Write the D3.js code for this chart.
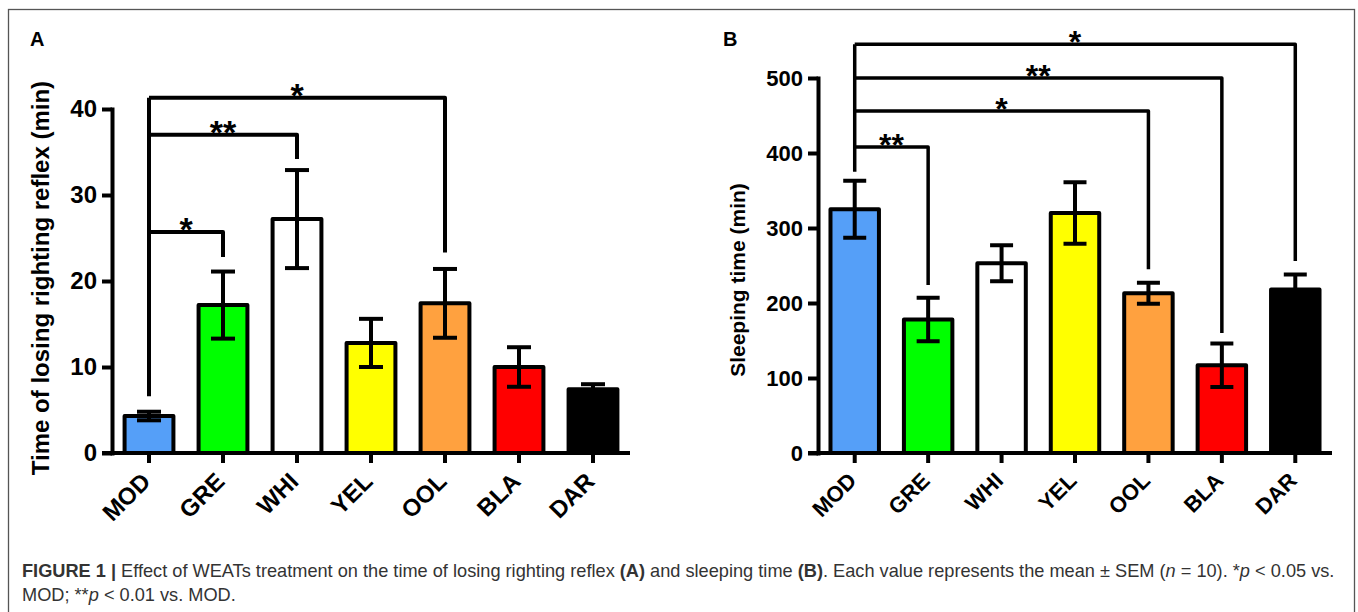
<!DOCTYPE html>
<html>
<head>
<meta charset="utf-8">
<script src="https://cdn.jsdelivr.net/npm/d3@7"></script>
<style>
  html, body { margin: 0; padding: 0; background: #fff; }
  svg { display: block; }
</style>
</head>
<body>
<svg id="fig" width="1358" height="612"></svg>
<script>
// ---------- data ----------
const categories = ["MOD", "GRE", "WHI", "YEL", "OOL", "BLA", "DAR"];
const barColors = ["#559ff8", "#00ff00", "#ffffff", "#ffff00", "#ffa13f", "#ff0000", "#000000"];

const meanA = [4.3, 17.2, 27.2, 12.8, 17.4, 10.0, 7.4];
const semA  = [0.5, 3.9, 5.7, 2.8, 4.0, 2.3, 0.6];
const ticksA = [0, 10, 20, 30, 40];

const meanB = [325, 178, 253, 320, 213, 117, 218];
const semB  = [38, 29, 24, 41, 14, 29, 20];
const ticksB = [0, 100, 200, 300, 400, 500];

// significance brackets (all vs. MOD)
const sigATo    = ["GRE", "WHI", "OOL"];
const sigALevel = [25.7, 37.0, 41.3];
const sigAEnd   = [22.8, 34.2, 23.3];
const sigALabel = ["*", "**", "*"];
const sigAStart = 6.6;

const sigBTo    = ["GRE", "OOL", "BLA", "DAR"];
const sigBLevel = [408, 456, 500, 545];
const sigBEnd   = [224, 245, 160, 256];
const sigBLabel = ["**", "*", "**", "*"];
const sigBStart = 375;

const yLabelA = "Time of losing righting reflex (min)";
const yLabelB = "Sleeping time (min)";

// ---------- drawing ----------
const svg = d3.select("#fig");
const FONT = "'Liberation Sans', Arial, Helvetica, sans-serif";

// outer frame
svg.append("rect")
  .attr("x", 8.5).attr("y", 9.5)
  .attr("width", 1346).attr("height", 640)
  .attr("fill", "none").attr("stroke", "#555").attr("stroke-width", 1.3);

function panel(cfg) {
  const g = svg.append("g");
  const x = d3.scaleBand().domain(categories)
    .range([cfg.x0, cfg.x1]).paddingInner(0.34).paddingOuter(0.17);
  const y = d3.scaleLinear().domain([0, cfg.yMax]).range([cfg.yBottom, cfg.yTop]);
  const cx = c => x(c) + x.bandwidth() / 2;
  const sw = cfg.sw;

  // panel letter
  g.append("text").attr("x", cfg.letterX).attr("y", 46)
    .attr("font-family", FONT).attr("font-weight", "bold").attr("font-size", 20)
    .text(cfg.letter);

  // y label
  g.append("text")
    .attr("transform", `translate(${cfg.yLabelX},${cfg.yLabelY}) rotate(-90)`)
    .attr("text-anchor", "middle")
    .attr("font-family", FONT).attr("font-weight", "bold").attr("font-size", cfg.labelFont)
    .text(cfg.yLabel);

  // bars
  g.selectAll("rect.bar").data(categories).join("rect")
    .attr("class", "bar")
    .attr("x", c => x(c))
    .attr("width", x.bandwidth())
    .attr("y", (c, i) => y(cfg.mean[i]))
    .attr("height", (c, i) => y(0) - y(cfg.mean[i]))
    .attr("fill", (c, i) => barColors[i])
    .attr("stroke", "#000").attr("stroke-width", sw)
    .attr("stroke-linejoin", "round");

  // error bars
  const capW = cfg.capW;
  const eb = g.selectAll("g.err").data(categories).join("g").attr("class", "err")
    .attr("stroke", "#000").attr("stroke-width", sw);
  eb.append("line")
    .attr("x1", c => cx(c)).attr("x2", c => cx(c))
    .attr("y1", (c, i) => y(cfg.mean[i] - cfg.sem[i]))
    .attr("y2", (c, i) => y(cfg.mean[i] + cfg.sem[i]));
  eb.append("line")
    .attr("x1", c => cx(c) - capW / 2).attr("x2", c => cx(c) + capW / 2)
    .attr("y1", (c, i) => y(cfg.mean[i] + cfg.sem[i]))
    .attr("y2", (c, i) => y(cfg.mean[i] + cfg.sem[i]));
  eb.append("line")
    .attr("x1", c => cx(c) - capW / 2).attr("x2", c => cx(c) + capW / 2)
    .attr("y1", (c, i) => y(cfg.mean[i] - cfg.sem[i]))
    .attr("y2", (c, i) => y(cfg.mean[i] - cfg.sem[i]));

  // y axis
  const yAxis = g.append("g")
    .attr("transform", `translate(${cfg.x0},0)`)
    .call(d3.axisLeft(y).tickValues(cfg.ticks).tickSize(10).tickSizeOuter(0).tickPadding(5));
  yAxis.select(".domain").attr("stroke-width", sw).attr("stroke-linecap", "square");
  yAxis.selectAll(".tick line").attr("stroke-width", sw);
  yAxis.selectAll(".tick text")
    .attr("font-family", FONT).attr("font-weight", "bold").attr("font-size", cfg.tickFont)
    .attr("fill", "#000");

  // x axis
  const xAxis = g.append("g")
    .attr("transform", `translate(0,${cfg.yBottom})`)
    .call(d3.axisBottom(x).tickSize(10).tickSizeOuter(0));
  xAxis.select(".domain").remove();
  xAxis.append("line")
    .attr("x1", cfg.x0 - 10).attr("x2", cfg.x1)
    .attr("y1", 0).attr("y2", 0)
    .attr("stroke", "#000").attr("stroke-width", sw);
  xAxis.selectAll(".tick line").attr("stroke-width", sw);
  xAxis.selectAll(".tick text")
    .attr("font-family", FONT).attr("font-weight", "bold").attr("font-size", cfg.xFont)
    .attr("fill", "#000")
    .attr("text-anchor", "end")
    .attr("dy", null)
    .attr("y", 0)
    .attr("transform", `translate(${cfg.xLabDx},${cfg.xLabDy}) rotate(-45)`);

  // significance brackets
  const sg = g.append("g").attr("fill", "none").attr("stroke", "#000")
    .attr("stroke-width", cfg.bw).attr("stroke-linejoin", "round");
  const mx = cx("MOD");
  const topLevel = d3.max(cfg.sigLevel);
  sg.append("line").attr("x1", mx).attr("x2", mx)
    .attr("y1", y(topLevel)).attr("y2", y(cfg.sigStart));
  cfg.sigTo.forEach((t, i) => {
    sg.append("path")
      .attr("d", `M${mx},${y(cfg.sigLevel[i])} H${cx(t)} V${y(cfg.sigEnd[i])}`);
    g.append("text")
      .attr("x", (mx + cx(t)) / 2)
      .attr("y", y(cfg.sigLevel[i]) + 9)
      .attr("text-anchor", "middle")
      .attr("font-family", FONT).attr("font-weight", "bold").attr("font-size", cfg.starFont)
      .text(cfg.sigLabel[i]);
  });
}

panel({
  letter: "A", letterX: 30,
  x0: 112, x1: 630, yBottom: 453, yTop: 109, yMax: 40,
  mean: meanA, sem: semA, ticks: ticksA,
  yLabel: yLabelA, yLabelX: 49, yLabelY: 278, labelFont: 24,
  tickFont: 24, xFont: 24, xLabDx: 3, xLabDy: 30,
  starFont: 34,
  sigTo: sigATo, sigLevel: sigALevel, sigEnd: sigAEnd, sigLabel: sigALabel, sigStart: sigAStart,
  sw: 4, bw: 4, capW: 24
});

panel({
  letter: "B", letterX: 723,
  x0: 818, x1: 1332, yBottom: 453, yTop: 78, yMax: 500,
  mean: meanB, sem: semB, ticks: ticksB,
  yLabel: yLabelB, yLabelX: 745, yLabelY: 280, labelFont: 21,
  tickFont: 22, xFont: 22, xLabDx: 3, xLabDy: 29,
  starFont: 32,
  sigTo: sigBTo, sigLevel: sigBLevel, sigEnd: sigBEnd, sigLabel: sigBLabel, sigStart: sigBStart,
  sw: 4, bw: 3.5, capW: 23
});

// ---------- caption ----------
const cap = svg.append("g").attr("font-family", FONT).attr("fill", "#333");
const line1 = cap.append("text").attr("x", 22).attr("y", 577).attr("font-size", 14.5);
line1.append("tspan").attr("font-weight", "bold").text("FIGURE 1 | ");
line1.append("tspan").text("Effect of WEATs treatment on the time of losing righting reflex ");
line1.append("tspan").attr("font-weight", "bold").text("(A)");
line1.append("tspan").text(" and sleeping time ");
line1.append("tspan").attr("font-weight", "bold").text("(B)");
line1.append("tspan").text(". Each value represents the mean \u00b1 SEM (");
line1.append("tspan").attr("font-style", "italic").text("n");
line1.append("tspan").text(" = 10). *");
line1.append("tspan").attr("font-style", "italic").text("p");
line1.append("tspan").text(" < 0.05 vs.");

const line2 = cap.append("text").attr("x", 22).attr("y", 601).attr("font-size", 14.5);
line2.append("tspan").text("MOD; **");
line2.append("tspan").attr("font-style", "italic").text("p");
line2.append("tspan").text(" < 0.01 vs. MOD.");

// fit caption width to reference line length
const target = 1314;
const len = line1.node().getComputedTextLength();
if (len > 0) {
  const fs = 14.5 * target / len;
  line1.attr("font-size", fs);
  line2.attr("font-size", fs);
}
</script>
</body>
</html>
